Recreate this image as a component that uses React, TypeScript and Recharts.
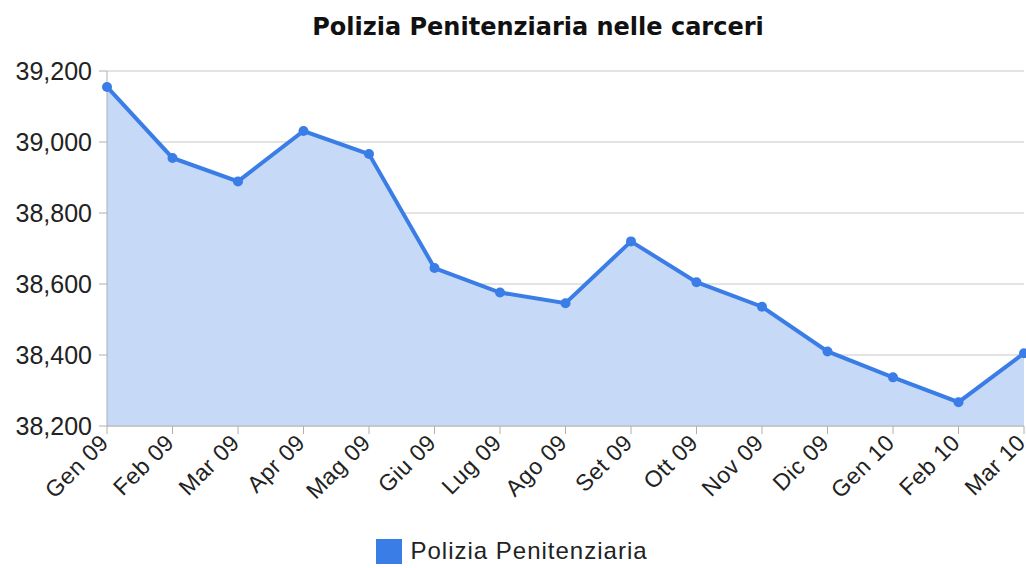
import { AreaChart, Area, XAxis, YAxis, CartesianGrid, Legend } from "recharts";

const months = [
  "Gen 09", "Feb 09", "Mar 09", "Apr 09", "Mag 09", "Giu 09", "Lug 09", "Ago 09",
  "Set 09", "Ott 09", "Nov 09", "Dic 09", "Gen 10", "Feb 10", "Mar 10",
];

const agenti = [
  39155, 38955, 38889, 39031, 38966, 38645, 38576, 38546,
  38720, 38605, 38536, 38410, 38337, 38267, 38405,
];

const yTicks = [38200, 38400, 38600, 38800, 39000, 39200];

const data = months.map((m, i) => ({ month: m, agenti: agenti[i] }));

const LINE = "#3b7de6";
const FILL = "#c6d9f7";
const FONT = "'Liberation Sans', Arial, sans-serif";

function AngledTick(props: any) {
  const { x, y, payload } = props;
  const ax = x + 3;
  const ay = y + 8;
  return (
    <text
      x={ax}
      y={ay}
      textAnchor="end"
      transform={`rotate(-45, ${ax}, ${ay})`}
      fontSize={23}
      letterSpacing={0.5}
      fill="#222"
      fontFamily={FONT}
    >
      {payload.value}
    </text>
  );
}

function LegendBox() {
  return (
    <div style={{ display: "flex", justifyContent: "center", alignItems: "center", height: 34 }}>
      <span style={{ width: 26, height: 25, background: LINE, display: "inline-block", marginRight: 8 }} />
      <span style={{ fontSize: 24, letterSpacing: 1, color: "#222", fontFamily: FONT }}>
        Polizia Penitenziaria
      </span>
    </div>
  );
}

export default function App() {
  return (
    <div style={{ position: "absolute", left: 0, top: 0, width: 1026, height: 568, background: "#fff", overflow: "hidden" }}>
      <div
        style={{
          position: "absolute", top: 13, left: 0, width: 1076, textAlign: "center",
          fontFamily: "'DejaVu Sans', sans-serif", fontWeight: "bold", fontSize: 24, color: "#111",
        }}
      >
        Polizia Penitenziaria nelle carceri
      </div>
      <AreaChart width={1026} height={568} data={data} margin={{ top: 71, right: 2, bottom: 0, left: 0 }}>
        <CartesianGrid vertical={false} stroke="#c8c8c8" />
        <XAxis
          dataKey="month"
          height={108}
          interval={0}
          tick={<AngledTick />}
          tickSize={8}
          stroke="#b0b0b0"
        />
        <YAxis
          domain={[38200, 39200]}
          ticks={yTicks}
          width={107}
          tickSize={8}
          tickMargin={7}
          stroke="#b0b0b0"
          tickFormatter={(v: number) => v.toLocaleString("en-US")}
          tick={{ fontSize: 25, fill: "#222", fontFamily: FONT }}
        />
        <Legend verticalAlign="bottom" content={<LegendBox />} wrapperStyle={{ height: 34, bottom: 0 }} />
        <Area
          type="linear"
          dataKey="agenti"
          name="Polizia Penitenziaria"
          stroke={LINE}
          strokeWidth={4}
          fill={FILL}
          fillOpacity={1}
          dot={{ r: 5, fill: LINE, stroke: LINE, strokeWidth: 0 }}
          activeDot={false}
          isAnimationActive={false}
        />
      </AreaChart>
    </div>
  );
}
